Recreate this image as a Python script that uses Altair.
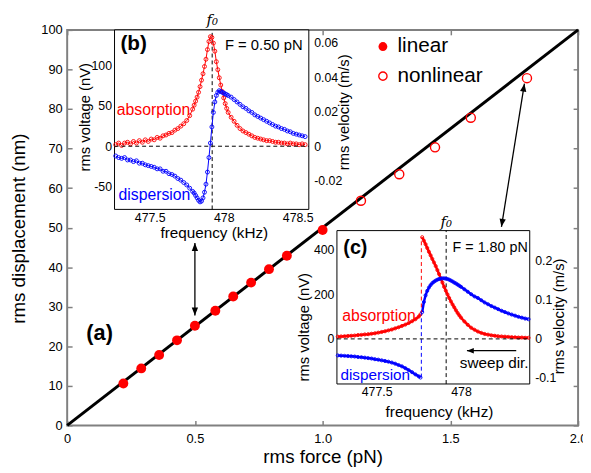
import altair as alt
import pandas as pd

W, H = 518, 401
RED = "#ff0000"
BLUE = "#0000ff"
GRAY = "#808080"

# ---------------- panel (a): rms displacement vs rms force ----------------
lin_force = [0.22, 0.29, 0.36, 0.43, 0.50, 0.58, 0.65, 0.72, 0.79, 0.86, 1.00]
lin_disp = [10.6, 14.4, 17.8, 21.5, 25.2, 29.0, 32.6, 36.1, 39.5, 42.9, 49.4]
nonlin_force = [1.15, 1.30, 1.44, 1.58, 1.80]
nonlin_disp = [56.8, 63.5, 70.3, 77.8, 87.8]
fit_force = [0.0, 2.0]
fit_disp = [0.0, 100.0]
main_force_domain = [0, 2]
main_disp_domain = [0, 100]
main_force_ticks = [0, 0.5, 1.0, 1.5, 2.0]
main_disp_ticks = [0, 10, 20, 30, 40, 50, 60, 70, 80, 90, 100]
legend_labels = ["linear", "nonlinear"]
legend_marker_force = [1.236, 1.236]
legend_text_force = [1.293, 1.293]
legend_disp = [95.8, 88.3]
label_a_force, label_a_disp = [0.127], [23.3]
arrow1_force, arrow1_disp = [0.5, 0.5], [27.8, 46.1]
arrow2_force, arrow2_disp = [1.700, 1.790], [50.2, 86.4]

# ---------------- inset (b): F = 0.50 pN ----------------
b_freq = [477.27, 477.29, 477.31, 477.33, 477.35, 477.37, 477.39, 477.41, 477.43, 477.45,
          477.47, 477.49, 477.51, 477.53, 477.55, 477.57, 477.59, 477.61, 477.63, 477.65,
          477.67, 477.69, 477.71, 477.73, 477.75, 477.77, 477.79,
          477.80, 477.81, 477.82, 477.83, 477.84, 477.85, 477.86, 477.87, 477.88, 477.89,
          477.90, 477.91, 477.92, 477.93, 477.94, 477.95, 477.96, 477.97, 477.98, 477.99,
          478.00, 478.01, 478.02, 478.03,
          478.05, 478.07, 478.09, 478.11, 478.13, 478.15, 478.17, 478.19, 478.21, 478.23,
          478.25, 478.27, 478.29, 478.31, 478.33, 478.35, 478.37, 478.39, 478.41, 478.43,
          478.45, 478.47, 478.49, 478.51, 478.53, 478.55]
b_absorption = [2, 4, 1, 4, 5, 3, 6, 4, 7, 5, 8, 6, 9, 8, 11, 10, 13, 14, 16, 17,
                20, 22, 25, 28, 32, 38, 46,
                51, 56, 61, 67, 74, 82, 90, 99, 108, 120, 130, 136, 135, 128, 118, 105,
                95, 85, 76, 68, 60, 53, 47, 42,
                36, 31, 26, 22, 19, 17, 15, 13, 11, 10, 9, 8, 7, 7, 6, 5, 5, 4, 4, 3,
                4, 3, 3, 2, 3, 2]
b_dispersion = [-12, -14, -15, -14, -17, -17, -19, -18, -21, -21, -23, -24, -25, -26, -28,
                -28, -31, -31, -34, -35, -37, -40, -42, -45, -48, -52, -56,
                -58, -61, -64, -67, -69, -68, -64, -57, -47, -32, -14, 4, 24, 42, 55, 63,
                67, 69, 68, 67, 66, 65, 64, 63,
                61, 58, 55, 52, 49, 47, 44, 42, 39, 37, 35, 33, 31, 29, 27, 25, 24, 22,
                21, 19, 18, 16, 15, 14, 13, 12]
b_f0 = 477.922
b_freq_domain = [477.262, 478.575]
b_volt_domain = [-78.3, 144.4]
b_vel_domain = [-0.0366, 0.0674]
b_freq_ticks = [477.5, 478.0, 478.5]
b_volt_ticks = [-50, 0, 50, 100]
b_vel_ticks = [-0.02, 0, 0.02, 0.04, 0.06]

# ---------------- inset (c): F = 1.80 pN ----------------
c_freq = [477.27, 477.29, 477.31, 477.33, 477.35, 477.37, 477.39, 477.41, 477.43, 477.45,
          477.47, 477.49, 477.51, 477.53, 477.55, 477.57, 477.59, 477.61, 477.63, 477.65,
          477.67, 477.69, 477.71, 477.73, 477.75, 477.76,
          477.77, 477.78, 477.79, 477.80, 477.81, 477.82, 477.83, 477.84, 477.85, 477.86,
          477.87, 477.88, 477.89, 477.90, 477.91, 477.92, 477.93, 477.94, 477.95, 477.96,
          477.97, 477.98, 477.99, 478.00,
          478.02, 478.04, 478.06, 478.08, 478.10, 478.12, 478.14, 478.16, 478.18, 478.20,
          478.22, 478.24, 478.26, 478.28, 478.30, 478.32, 478.34, 478.36, 478.38, 478.40]
c_absorption = [10, 11, 12, 13, 14, 15, 17, 18, 20, 21, 23, 25, 28, 31, 34, 38, 42, 47, 52,
                58, 64, 71, 79, 88, 100, 110,
                455, 440, 424, 407, 390, 374, 358, 342, 326, 308, 290, 271, 252, 233, 216,
                199, 183, 168, 154, 141, 128, 116, 105, 95,
                78, 63, 50, 41, 33, 27, 22, 19, 16, 14, 12, 11, 10, 9, 8, 7, 6, 6, 5, 5]
c_dispersion = [-74, -75, -76, -77, -78, -79, -81, -82, -84, -86, -88, -91, -93, -96, -99,
                -102, -106, -111, -117, -123, -131, -140, -149, -159, -168, -173,
                120, 165, 195, 215, 230, 241, 250, 256, 261, 265, 268, 270, 271, 271, 270,
                268, 265, 261, 257, 252, 248, 243, 238, 233,
                222, 211, 200, 190, 183, 173, 163, 155, 147, 140, 133, 126, 120, 114, 109,
                104, 99, 95, 91, 88]
c_jump_freq = 477.765
c_jump_absorption = [110, 455]
c_jump_dispersion = [-173, 120]
c_f0 = 477.912
c_sweep_freq, c_sweep_volt = [478.327, 478.035], [-53, -53]
c_freq_domain = [477.265, 478.407]
c_volt_domain = [-201.8, 484.8]
c_vel_domain = [-0.1157, 0.278]
c_freq_ticks = [477.5, 478.0]
c_volt_ticks = [0, 200, 400]
c_vel_ticks = [-0.1, 0, 0.1, 0.2]

# ---------------- layout of the insets inside the main plot (pixels) ----------------
B_XR, B_YR = [48, 245], [182, 0]
C_XR, C_YR = [273.5, 469], [359, 203.5]

HYPHEN = "datum.value < 0 ? '-' + (-datum.value) : '' + datum.value"
HEAD = "M0,0L-0.4,1L0.4,1Z"


def frame_df(x0, x1, y0, y1, xn, yn):
    return pd.DataFrame({xn: [x0], xn + "2": [x1], yn: [y0], yn + "2": [y1]})


# ---------------- main panel ----------------
mxs = alt.Scale(domain=main_force_domain, nice=False, zero=False)
mys = alt.Scale(domain=main_disp_domain, nice=False, zero=False)


def MX(axis=None):
    return alt.X("F:Q", scale=mxs, axis=axis)


def MY(axis=None):
    return alt.Y("D:Q", scale=mys, axis=axis)


ax_main_x = alt.Axis(orient="bottom", values=main_force_ticks, ticks=False, domain=False, grid=False,
                     labelFlush=False, labelPadding=7, labelFontSize=13,
                     labelExpr="datum.value == 0 ? '0' : format(datum.value, '.1f')",
                     title="rms force (pN)", titleFontSize=19, titleFontWeight="normal",
                     titleX=259, titleY=32, titleBaseline="middle")
ax_main_y = alt.Axis(orient="left", values=main_disp_ticks, ticks=False, domain=False, grid=False,
                     labelFlush=False, labelPadding=5, labelFontSize=13,
                     title="rms displacement (nm)", titleFontSize=19, titleFontWeight="normal",
                     titleX=-49, titleY=201, titleAngle=270, titleBaseline="middle")
tick_in = dict(labels=False, domain=False, grid=False, ticks=True, tickSize=5, tickColor=GRAY,
               tickWidth=1.5, title=None)
ax_in_bottom = alt.Axis(orient="top", offset=-H, values=main_force_ticks, **tick_in)
ax_in_top = alt.Axis(orient="bottom", offset=-H, values=main_force_ticks, **tick_in)
ax_in_left = alt.Axis(orient="right", offset=-W, values=main_disp_ticks, **tick_in)
ax_in_right = alt.Axis(orient="left", offset=-W, values=main_disp_ticks, **tick_in)

fit_line = alt.Chart(pd.DataFrame({"F": fit_force, "D": fit_disp})).mark_line(
    color="black", strokeWidth=3).encode(x=MX(ax_main_x), y=MY(ax_main_y))
lin_pts = alt.Chart(pd.DataFrame({"F": lin_force, "D": lin_disp})).mark_point(
    shape="circle", filled=True, color=RED, size=100, opacity=1).encode(
    x=MX(ax_in_bottom), y=MY(ax_in_left))
nonlin_pts = alt.Chart(pd.DataFrame({"F": nonlin_force, "D": nonlin_disp})).mark_point(
    shape="circle", filled=False, color=RED, size=85, strokeWidth=1.4, opacity=1).encode(
    x=MX(ax_in_top), y=MY(ax_in_right))
leg_filled = alt.Chart(pd.DataFrame({"F": legend_marker_force[:1], "D": legend_disp[:1]})).mark_point(
    shape="circle", filled=True, color=RED, size=80, opacity=1).encode(x=MX(), y=MY())
leg_open = alt.Chart(pd.DataFrame({"F": legend_marker_force[1:], "D": legend_disp[1:]})).mark_point(
    shape="circle", filled=False, color=RED, size=70, strokeWidth=1.4, opacity=1).encode(x=MX(), y=MY())
leg_text = alt.Chart(pd.DataFrame({"F": legend_text_force, "D": legend_disp, "t": legend_labels})).mark_text(
    align="left", baseline="middle", fontSize=21, color="black").encode(x=MX(), y=MY(), text="t:N")
a_text = alt.Chart(pd.DataFrame({"F": label_a_force, "D": label_a_disp, "t": ["(a)"]})).mark_text(
    align="center", baseline="middle", fontSize=22, fontWeight="bold", color="black").encode(
    x=MX(), y=MY(), text="t:N")


def arrow_layers(fs, ds, ang_lo, ang_hi):
    shaft = alt.Chart(pd.DataFrame({"F": [fs[0]], "D": [ds[0]], "F2": [fs[1]], "D2": [ds[1]]})).mark_rule(
        color="black", strokeWidth=1.3).encode(x=MX(), y=MY(), x2="F2:Q", y2="D2:Q")
    lo = alt.Chart(pd.DataFrame({"F": [fs[0]], "D": [ds[0]]})).mark_point(
        shape=HEAD, filled=True, color="black", size=256, angle=ang_lo, opacity=1, strokeWidth=0).encode(
        x=MX(), y=MY())
    hi = alt.Chart(pd.DataFrame({"F": [fs[1]], "D": [ds[1]]})).mark_point(
        shape=HEAD, filled=True, color="black", size=256, angle=ang_hi, opacity=1, strokeWidth=0).encode(
        x=MX(), y=MY())
    return [shaft, lo, hi]


main = alt.layer(
    fit_line, lin_pts, nonlin_pts, leg_filled, leg_open, leg_text, a_text,
    *arrow_layers(arrow1_force, arrow1_disp, 180, 0),
    *arrow_layers(arrow2_force, arrow2_disp, 189.2, 9.2),
).resolve_axis(x="independent", y="independent")


# ---------------- insets ----------------
def make_inset(freq, absorb, disper, fdom, vdom, xr, yr, xticks, vticks, f0,
               xtitle_pos, ytitle_pos, texts, pt_size, pt_stroke, line_w, jump=None):
    xs = alt.Scale(domain=fdom, range=xr, nice=False, zero=False)
    ys = alt.Scale(domain=vdom, range=yr, nice=False, zero=False)
    ax_x = alt.Axis(orient="bottom", offset=-(H - yr[0]), values=xticks, ticks=False, domain=False,
                    grid=False, labelFlush=False, labelPadding=2, labelFontSize=12.5, labelExpr=HYPHEN,
                    title="frequency (kHz)", titleFontSize=15.5, titleFontWeight="normal",
                    titleX=xtitle_pos[0], titleY=xtitle_pos[1], titleBaseline="middle")
    ax_y = alt.Axis(orient="left", offset=-xr[0], values=vticks, ticks=False, domain=False,
                    grid=False, labelFlush=False, labelPadding=3, labelFontSize=12.5, labelExpr=HYPHEN,
                    title="rms voltage (nV)", titleFontSize=15, titleFontWeight="normal",
                    titleX=ytitle_pos[0], titleY=ytitle_pos[1], titleAngle=270, titleBaseline="middle")
    X = alt.X("f:Q", scale=xs, axis=ax_x)
    Y = alt.Y("v:Q", scale=ys, axis=ax_y)
    layers = []
    layers.append(alt.Chart(frame_df(fdom[0], fdom[1], vdom[0], vdom[1], "f", "v")).mark_rect(
        fill="white", stroke="black", strokeWidth=1).encode(x=X, x2="f2:Q", y=Y, y2="v2:Q"))
    layers.append(alt.Chart(pd.DataFrame({"f": [f0], "v": [vdom[0]], "v2": [vdom[1]]})).mark_rule(
        color="black", strokeDash=[4, 3], strokeWidth=1).encode(x=X, y=Y, y2="v2:Q"))
    for vals, col in ((absorb, RED), (disper, BLUE)):
        d = pd.DataFrame({"f": freq, "v": vals})
        if jump is not None:
            d["branch"] = ["upper" if f > jump["freq"] else "lower" for f in freq]
            line = alt.Chart(d).mark_line(color=col, strokeWidth=line_w).encode(x=X, y=Y, detail="branch:N")
        else:
            line = alt.Chart(d).mark_line(color=col, strokeWidth=line_w).encode(x=X, y=Y)
        layers.append(line)
        layers.append(alt.Chart(d).mark_point(shape="circle", filled=False, color=col, size=pt_size,
                                              strokeWidth=pt_stroke, opacity=1).encode(x=X, y=Y))
    if jump is not None:
        for vals, col in ((jump["absorption"], RED), (jump["dispersion"], BLUE)):
            layers.append(alt.Chart(pd.DataFrame({"f": [jump["freq"]], "v": [vals[0]], "v2": [vals[1]]})).mark_rule(
                color=col, strokeDash=[4, 3], strokeWidth=1).encode(x=X, y=Y, y2="v2:Q"))
        sf, sv = jump["sweep"]
        layers.append(alt.Chart(pd.DataFrame({"f": [sf[0]], "v": [sv[0]], "f2": [sf[1]]})).mark_rule(
            color="black", strokeWidth=1.3).encode(x=X, y=Y, x2="f2:Q"))
        layers.append(alt.Chart(pd.DataFrame({"f": [sf[1]], "v": [sv[1]]})).mark_point(
            shape=HEAD, filled=True, color="black", size=196, angle=270, opacity=1, strokeWidth=0).encode(x=X, y=Y))
    for t in texts:
        style = dict(t["style"])
        layers.append(alt.Chart(pd.DataFrame({"f": [t["f"]], "v": [t["v"]], "t": [t["label"]]})).mark_text(
            baseline="middle", **style).encode(x=X, y=Y, text="t:N"))
    return alt.layer(*layers)


def make_right(fdom, vel_dom, xr, yr, ticks, title_pos):
    xs = alt.Scale(domain=fdom, range=xr, nice=False, zero=False)
    ys = alt.Scale(domain=vel_dom, range=yr, nice=False, zero=False)
    ax = alt.Axis(orient="right", offset=xr[1] - W, values=ticks, ticks=False, domain=False, grid=False,
                  labelFlush=False, labelPadding=5, labelFontSize=12.5, labelExpr=HYPHEN,
                  title="rms velocity (m/s)", titleFontSize=15, titleFontWeight="normal",
                  titleX=title_pos[0], titleY=title_pos[1], titleAngle=270, titleBaseline="middle")
    d = pd.DataFrame({"f": [fdom[0]], "f2": [fdom[1]], "u": [0.0]})
    return alt.Chart(d).mark_rule(color="black", strokeDash=[4, 3], strokeWidth=1).encode(
        x=alt.X("f:Q", scale=xs, axis=None), x2="f2:Q", y=alt.Y("u:Q", scale=ys, axis=ax))


SERIF = dict(font="DejaVu Serif", fontStyle="italic", fontSize=15, align="center", color="black")
b_texts = [
    {"f": 477.302, "v": 127, "label": "(b)", "style": dict(fontSize=21, fontWeight="bold", align="left", color="black")},
    {"f": 478.533, "v": 126, "label": "F = 0.50 pN", "style": dict(fontSize=15, align="right", color="black")},
    {"f": 477.277, "v": 45, "label": "absorption", "style": dict(fontSize=16, align="left", color=RED)},
    {"f": 477.289, "v": -61, "label": "dispersion", "style": dict(fontSize=16, align="left", color=BLUE)},
    {"f": b_f0, "v": 157, "label": "f\u2080", "style": SERIF},
]
c_texts = [
    {"f": 477.303, "v": 407, "label": "(c)", "style": dict(fontSize=20, fontWeight="bold", align="left", color="black")},
    {"f": 478.395, "v": 407, "label": "F = 1.80 pN", "style": dict(fontSize=14.5, align="right", color="black")},
    {"f": 477.296, "v": 104, "label": "absorption", "style": dict(fontSize=16, align="left", color=RED)},
    {"f": 477.286, "v": -161, "label": "dispersion", "style": dict(fontSize=15.5, align="left", color=BLUE)},
    {"f": 478.400, "v": -109, "label": "sweep dir.", "style": dict(fontSize=15.5, align="right", color="black")},
    {"f": c_f0, "v": 524, "label": "f\u2080", "style": SERIF},
]

inset_b = make_inset(b_freq, b_absorption, b_dispersion, b_freq_domain, b_volt_domain, B_XR, B_YR,
                     b_freq_ticks, b_volt_ticks, b_f0, (148.7, 24), (-30, 88), b_texts,
                     pt_size=16, pt_stroke=0.9, line_w=1)
inset_b_right = make_right(b_freq_domain, b_vel_domain, B_XR, B_YR, b_vel_ticks, (35, 83))
inset_c = make_inset(c_freq, c_absorption, c_dispersion, c_freq_domain, c_volt_domain, C_XR, C_YR,
                     c_freq_ticks, c_volt_ticks, c_f0, (377, 28), (-33.5, 301), c_texts,
                     pt_size=10, pt_stroke=0.9, line_w=2.5,
                     jump={"freq": c_jump_freq, "absorption": c_jump_absorption,
                           "dispersion": c_jump_dispersion, "sweep": (c_sweep_freq, c_sweep_volt)})
inset_c_right = make_right(c_freq_domain, c_vel_domain, C_XR, C_YR, c_vel_ticks, (29, 290))

chart = alt.layer(main, inset_b, inset_b_right, inset_c, inset_c_right).resolve_scale(
    x="independent", y="independent").resolve_axis(x="independent", y="independent").properties(
    width=W, height=H, autosize=alt.AutoSizeParams(type="none"),
    padding={"left": 60, "top": 19, "right": 5, "bottom": 40},
).configure(font="Liberation Sans").configure_axis(
    labelColor="black", titleColor="black", labelFont="Liberation Sans", titleFont="Liberation Sans"
).configure_view(stroke=GRAY, strokeWidth=2)

chart.save("out.html", embed_options={"renderer": "svg", "actions": False})
